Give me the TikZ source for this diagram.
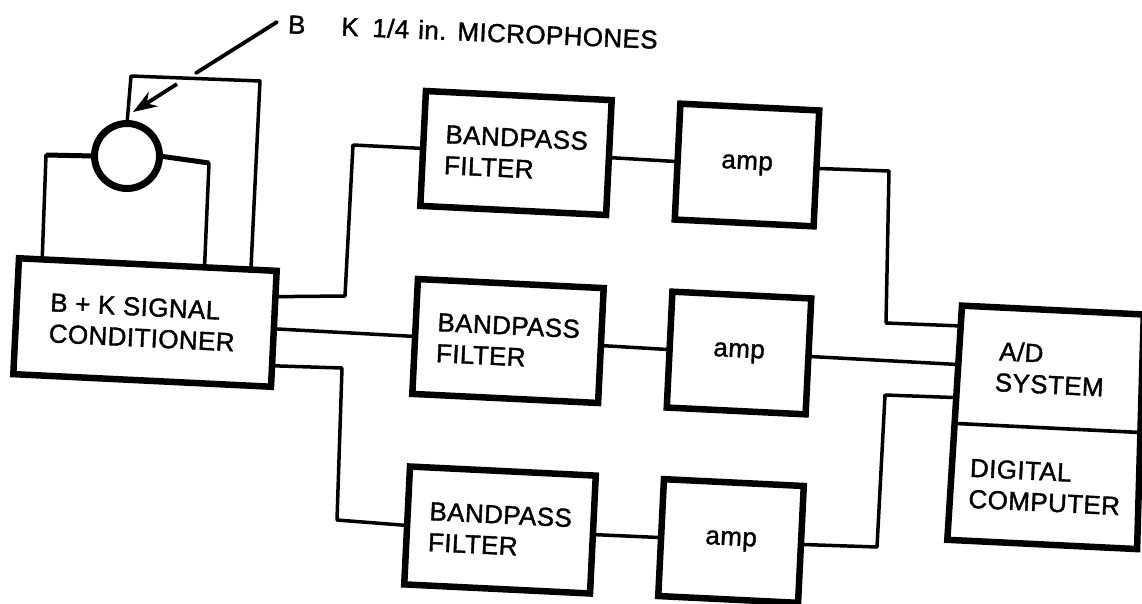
\documentclass[tikz,border=0pt]{standalone}
\usepackage{fontspec}
\setmainfont[FakeBold=1.4,LetterSpace=1.5]{Liberation Sans}
\usetikzlibrary{calc,arrows.meta}
\newcommand{\lowtext}[1]{\raisebox{-6pt}{#1}}
\tikzset{
  blockbox/.style={draw=black,line width=6.5pt,rectangle,inner sep=0pt,outer sep=0pt,rotate=-2.8,align=left,font=\fontsize{26}{31}\selectfont},
  plainbox/.style={rectangle,inner sep=0pt,outer sep=0pt,rotate=-2.8,align=left,font=\fontsize{26}{31}\selectfont},
  wire/.style={line width=3.5pt,line join=round,line cap=round},
  heavywire/.style={line width=5pt,line join=round},
  leader/.style={line width=3.8pt},
  micring/.style={draw=black,circle,line width=7pt,minimum size=65pt,inner sep=0pt,outer sep=0pt}
}
\begin{document}
\begin{tikzpicture}[x=1pt,y=-1pt]
\useasboundingbox (0,0) rectangle (1142,603);
% blocks
\node[blockbox,minimum width=258pt,minimum height=116pt] (sc) at (145,322.5) {\hspace*{-5pt}B + K SIGNAL\\\hspace*{-5pt}CONDITIONER};
\node[micring] (mic) at (127,156) {};
\node[blockbox,minimum width=186pt,minimum height=115pt] (f1) at (516,153) {BANDPASS\\FILTER};
\node[blockbox,minimum width=139pt,minimum height=116pt] (a1) at (747,165) {\lowtext{amp}};
\node[blockbox,minimum width=186pt,minimum height=115pt] (f2) at (508,341) {BANDPASS\\FILTER};
\node[blockbox,minimum width=139pt,minimum height=116pt] (a2) at (739,353) {\lowtext{amp}};
\node[blockbox,minimum width=186pt,minimum height=118pt] (f3) at (500,530) {BANDPASS\\FILTER};
\node[blockbox,minimum width=140pt,minimum height=117pt] (a3) at (731,541) {\lowtext{amp}};
\node[plainbox,minimum width=182pt,minimum height=118pt] (ad) at (1050,369) {\hspace*{3pt}A/D\\SYSTEM};
\node[plainbox,minimum width=190pt,minimum height=115pt] (dc) at (1045,487) {DIGITAL\\COMPUTER};
\draw[line width=6.5pt,line join=miter] (ad.north west) -- (ad.north east) -- (dc.south east) -- (dc.south west) -- cycle;
\draw[line width=3.6pt] (ad.south west) -- (ad.south east);
% microphone label
\node[rotate=-2.4,anchor=west,inner sep=0pt,font=\fontsize{26}{30}\selectfont] (lab) at (288,24) {B\hspace{36pt}K \hspace{6pt}1/4\hspace{9pt}in.\hspace{11pt}MICROPHONES};
% microphone wiring
\coordinate (ml) at (46,155);
\coordinate (mr) at (209,163);
\coordinate (tl) at (131,76);
\coordinate (tr) at (260,81);
\draw[heavywire] (mic.west) -- (ml);
\draw[wire] (ml) -- ($(sc.north west)!0.09!(sc.north east)$);
\draw[heavywire] (mic.east) -- (mr);
\draw[wire] (mr) -- ($(sc.north west)!0.72!(sc.north east)$);
\draw[wire] (mic.north) -- (tl) -- (tr) -- ($(sc.north west)!0.90!(sc.north east)$);
% arrow to the microphone
\coordinate (l1) at (277,22);
\coordinate (l2) at (196,73);
\coordinate (l3) at (177,84);
\coordinate (tip) at (133,112);
\draw[leader,line cap=round] (l1) -- (l2);
\draw[leader,-{Stealth[length=24pt,width=17pt]}] (l3) -- (tip);
% signal paths
\draw[wire] (sc.14) -- (345,296) -- (353,145) -- (f1.west);
\draw[wire] (sc.east) -- (f2.west);
\draw[wire] (sc.-16) -- (342,368) -- (337,520) -- (f3.west);
\draw[wire] (f1.east) -- (a1.west);
\draw[wire] (f2.east) -- (a2.west);
\draw[wire] (f3.east) -- (a3.west);
\draw[wire] (a1.east) -- (889,171) -- (886,323) -- (ad.157);
\draw[wire] (a2.east) -- (ad.west);
\draw[wire] (a3.east) -- (877,547) -- (885,395) -- (ad.200);
\end{tikzpicture}
\end{document}
